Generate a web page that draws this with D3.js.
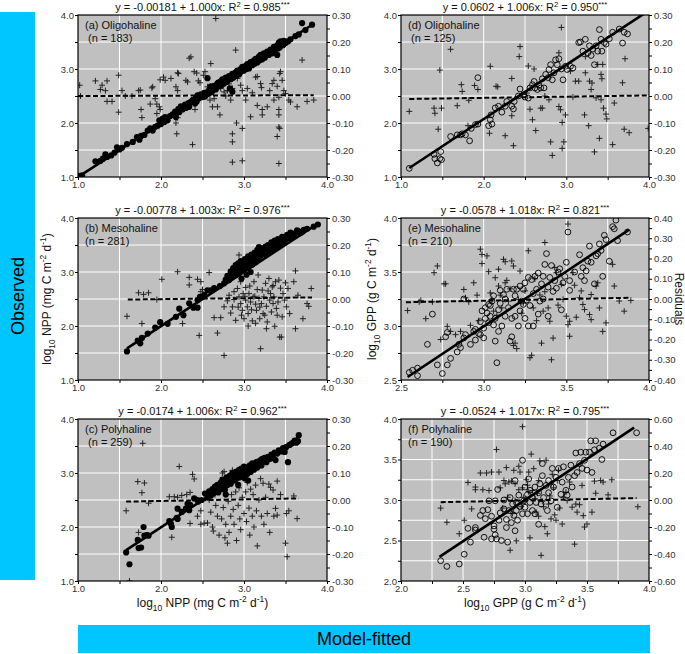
<!DOCTYPE html>
<html>
<head>
<meta charset="utf-8">
<script src="https://cdn.jsdelivr.net/npm/d3@7"></script>
<style>
body { margin: 0; background: #fff; }
svg text { font-family: "Liberation Sans", Arial, sans-serif; }
.tick text { font-size: 9.5px; fill: #333; }
.tick line { stroke: #000; }
</style>
</head>
<body>
<div id="chart"></div>
<script>
// ---- panel text ----
var panelNames = ["(a) Oligohaline", "(b) Mesohaline", "(c) Polyhaline", "(d) Oligohaline", "(e) Mesohaline", "(f) Polyhaline"];
var panelN = [" (n = 183)", "(n = 281)", " (n = 259)", " (n = 125)", "(n = 210)", "(n = 190)"];
var eqText = ["y = -0.00181 + 1.000x: R", "y = -0.00778 + 1.003x: R", "y = -0.0174 + 1.006x: R",
              "y = 0.0602 + 1.006x: R", "y = -0.0578 + 1.018x: R", "y = -0.0524 + 1.017x: R"];
var r2Text = [" = 0.985", " = 0.976", " = 0.962", " = 0.950", " = 0.821", " = 0.795"];

// ---- regression lines ----
var intercepts = [-0.00181, -0.00778, -0.0174, 0.0602, -0.0578, -0.0524];
var slopes = [1.000, 1.003, 1.006, 1.006, 1.018, 1.017];
var fitRange = [[1.0, 3.83], [1.59, 3.88], [1.58, 3.66], [1.1, 3.97], [2.54, 3.88], [2.31, 3.88]];
// residual trend: x0, x1, r0, r1
var residTrend = [[1.0, 3.84, 0.0, 0.003], [1.6, 3.82, -0.002, 0.006], [1.58, 3.66, -0.006, 0.006],
                  [1.1, 3.98, -0.011, 0.002], [2.53, 3.88, -0.016, 0.006], [2.32, 3.9, -0.016, 0.014]];

// ---- axes ----
var xDomains = [[1, 4], [1, 4], [1, 4], [1, 4], [2.5, 4], [2, 4]];
var rDomains = [[-0.3, 0.3], [-0.3, 0.3], [-0.3, 0.3], [-0.3, 0.3], [-0.4, 0.4], [-0.6, 0.6]];
var majorTicks = [[1, 2, 3, 4], [1, 2, 3, 4], [1, 2, 3, 4], [1, 2, 3, 4], [2.5, 3, 3.5, 4], [2, 2.5, 3, 3.5, 4]];
var minorTicks = [[1.5, 2.5, 3.5], [1.5, 2.5, 3.5], [1.5, 2.5, 3.5], [1.5, 2.5, 3.5], [2.75, 3.25, 3.75], [2.25, 2.75, 3.25, 3.75]];
var rMajor = [[-0.3, -0.2, -0.1, 0, 0.1, 0.2, 0.3], [-0.3, -0.2, -0.1, 0, 0.1, 0.2, 0.3], [-0.3, -0.2, -0.1, 0, 0.1, 0.2, 0.3],
              [-0.3, -0.2, -0.1, 0, 0.1, 0.2, 0.3], [-0.4, -0.3, -0.2, -0.1, 0, 0.1, 0.2, 0.3, 0.4], [-0.6, -0.4, -0.2, 0, 0.2, 0.4, 0.6]];
var rMinor = [[-0.25, -0.15, -0.05, 0.05, 0.15, 0.25], [-0.25, -0.15, -0.05, 0.05, 0.15, 0.25], [-0.25, -0.15, -0.05, 0.05, 0.15, 0.25],
              [-0.25, -0.15, -0.05, 0.05, 0.15, 0.25], [-0.35, -0.25, -0.15, -0.05, 0.05, 0.15, 0.25, 0.35], [-0.5, -0.3, -0.1, 0.1, 0.3, 0.5]];

// ---- observed vs model-fitted (log10) ----
var obsA = [[1.01,1.02],[1.03,1.01],[1.05,1.03],[1.21,1.29],[1.27,1.30],[1.30,1.34],[1.33,1.42],[1.35,1.37],[1.40,1.40],[1.44,1.45],[1.47,1.55],[1.50,1.51],[1.53,1.54],[1.59,1.61],[1.66,1.65],[1.71,1.74],[1.74,1.69],[1.76,1.76],[1.80,1.78],[1.84,1.86],[1.87,1.90],[1.90,1.86],[1.93,1.93],[1.96,1.95],[1.98,2.05],[2.00,1.98],[2.02,2.08],[2.04,2.02],[2.05,2.11],[2.08,2.05],[2.11,2.13],[2.14,2.16],[2.17,2.21],[2.18,2.11],[2.21,2.26],[2.22,2.20],[2.24,2.31],[2.26,2.25],[2.29,2.34],[2.30,2.28],[2.33,2.37],[2.34,2.30],[2.36,2.39],[2.38,2.42],[2.41,2.36],[2.42,2.46],[2.44,2.51],[2.46,2.46],[2.48,2.53],[2.50,2.48],[2.52,2.56],[2.55,2.53],[2.56,2.83],[2.57,2.59],[2.59,2.63],[2.61,2.57],[2.62,2.66],[2.64,2.69],[2.66,2.62],[2.68,2.73],[2.70,2.68],[2.72,2.77],[2.74,2.81],[2.76,2.73],[2.78,2.84],[2.80,2.78],[2.83,2.64],[2.82,2.87],[2.84,2.81],[2.86,2.58],[2.86,2.91],[2.88,2.86],[2.90,2.94],[2.92,2.97],[2.94,2.90],[2.96,3.00],[2.98,3.04],[3.00,2.97],[3.02,3.06],[3.04,3.09],[3.06,3.01],[3.08,3.13],[3.10,3.07],[3.12,3.16],[3.14,3.19],[3.16,3.12],[3.18,3.23],[3.20,3.26],[3.22,3.18],[3.24,3.29],[3.26,3.24],[3.28,3.32],[3.30,3.26],[3.32,3.36],[3.34,3.29],[3.36,3.41],[3.38,3.36],[3.40,3.26],[3.40,3.44],[3.42,3.49],[3.43,3.40],[3.44,3.51],[3.46,3.46],[3.48,3.52],[3.50,3.48],[3.53,3.51],[3.56,3.55],[3.62,3.61],[3.66,3.64],[3.70,3.85],[3.74,3.72],[3.82,3.82],
  [2.39,2.43],[2.43,2.40],[2.47,2.50],[2.51,2.52],[2.53,2.49],[2.58,2.55],[2.60,2.68],[2.63,2.61],[2.65,2.66],[2.67,2.70],[2.69,2.75],[2.71,2.72],[2.73,2.70],[2.75,2.78],[2.77,2.80],[2.79,2.76],[2.81,2.83],[2.85,2.86],[2.87,2.84],[2.89,2.90],[2.91,2.88],[2.93,2.95],[2.95,2.93],[2.97,2.96],[2.99,3.00],[3.01,3.02],[3.03,3.00],[3.05,3.05],[3.07,3.07],[3.09,3.10],[3.11,3.12],[3.13,3.10],[3.15,3.16],[3.17,3.18],[3.19,3.16],[3.21,3.22],[3.23,3.25],[3.25,3.21],[3.27,3.28],[3.29,3.30],[3.31,3.33],[3.33,3.31],[3.35,3.36],[3.37,3.34],[3.39,3.40],[3.41,3.38],[3.45,3.48],[3.47,3.44],[3.49,3.50]];
var obsB = [[1.59,1.53],[1.72,1.73],[1.75,1.68],[1.77,1.78],[1.84,1.86],[1.93,1.97],[1.99,2.07],[2.08,2.04],[2.18,2.17],[2.22,2.32],[2.27,2.20],[2.34,2.42],[2.39,2.34],[2.44,2.48],[2.44,2.34],[2.47,2.54],[2.52,2.57],[2.56,2.66],[2.60,2.66],[2.64,2.70],[2.71,2.74],[2.76,2.79],[2.78,2.86],[2.80,2.93],[2.82,2.85],[2.84,3.01],[2.86,2.93],[2.87,3.07],[2.89,2.96],[2.90,3.13],[2.91,3.04],[2.93,3.16],[2.94,2.98],[2.95,3.10],[2.96,3.20],[2.98,3.04],[2.99,3.13],[3.01,3.24],[3.02,3.10],[3.03,3.20],[3.05,3.29],[3.06,3.13],[3.07,3.22],[3.09,3.32],[3.10,3.20],[3.11,3.29],[3.13,3.36],[3.14,3.24],[3.16,3.41],[3.17,3.32],[3.18,3.46],[3.20,3.35],[3.22,3.44],[3.24,3.34],[3.26,3.47],[3.27,3.40],[3.29,3.50],[3.31,3.42],[3.33,3.55],[3.35,3.46],[3.37,3.58],[3.39,3.50],[3.41,3.61],[3.43,3.53],[3.46,3.65],[3.48,3.57],[3.52,3.69],[3.56,3.73],[3.60,3.67],[3.64,3.77],[3.68,3.72],[3.76,3.80],[3.84,3.84],[3.89,3.88],
  [2.82,2.90],[2.85,2.96],[2.88,2.99],[2.90,2.95],[2.92,3.05],[2.94,3.08],[2.96,3.02],[2.97,3.12],[2.99,3.06],[3.00,3.17],[3.02,3.14],[3.04,3.12],[3.05,3.22],[3.07,3.16],[3.08,3.25],[3.10,3.14],[3.11,3.24],[3.12,3.30],[3.14,3.18],[3.15,3.33],[3.17,3.26],[3.18,3.37],[3.20,3.30],[3.21,3.40],[3.23,3.36],[3.25,3.42],[3.26,3.32],[3.28,3.45],[3.30,3.38],[3.32,3.48],[3.34,3.42],[3.36,3.52],[3.38,3.46],[3.40,3.55],[3.42,3.50],[3.44,3.58],[3.45,3.52],[3.47,3.61],[3.50,3.60],[3.53,3.64],[3.55,3.62],[3.58,3.70],[3.62,3.72],[3.66,3.75],[3.70,3.74],[3.72,3.78],[2.97,2.88],[3.03,2.95],[3.08,3.00]];
var obsC = [[1.58,1.53],[1.62,1.31],[1.72,1.76],[1.73,1.61],[1.76,1.62],[1.79,2.00],[1.80,1.84],[1.83,1.85],[1.85,1.84],[2.10,2.11],[2.12,2.06],[2.13,2.00],[2.19,2.17],[2.20,2.15],[2.20,2.34],[2.25,2.28],[2.30,2.34],[2.32,2.43],[2.34,2.31],[2.35,2.41],[2.40,2.53],[2.44,2.50],[2.45,2.47],[2.49,2.50],[2.53,2.62],
  [2.56,2.55],[2.58,2.66],[2.60,2.58],[2.62,2.70],[2.63,2.62],[2.65,2.75],[2.66,2.66],[2.68,2.78],[2.69,2.64],[2.70,2.72],[2.72,2.82],[2.73,2.70],[2.74,2.88],[2.75,2.76],[2.77,2.69],[2.78,2.85],[2.79,2.92],[2.80,2.78],[2.82,2.88],[2.83,2.95],[2.84,2.80],[2.85,2.90],[2.86,3.00],[2.88,2.86],[2.89,2.95],[2.90,3.02],[2.91,2.90],[2.92,2.98],[2.94,3.06],[2.95,2.92],[2.96,3.00],[2.97,3.08],[2.98,2.96],[2.99,3.04],[3.00,3.12],[3.01,2.90],[3.02,3.02],[3.03,3.10],[3.04,2.98],[3.05,3.06],[3.07,3.14],[3.08,3.02],[3.09,3.10],[3.10,3.18],[3.12,3.06],[3.13,3.14],[3.15,3.20],[3.16,3.10],[3.18,3.17],[3.20,3.24],[3.21,3.14],[3.23,3.22],[3.25,3.28],[3.27,3.20],[3.29,3.30],[3.31,3.26],[3.33,3.34],[3.35,3.28],[3.37,3.38],[3.38,3.24],[3.40,3.36],[3.42,3.42],[3.45,3.40],[3.47,3.46],[3.49,3.39],[3.51,3.48],[3.53,3.20],[3.55,3.52],[3.58,3.55],[3.61,3.60],[3.63,3.56],[3.65,3.59],[3.66,3.70],
  [2.93,2.78],[3.05,2.86],[2.78,2.60],[2.87,2.93],[2.93,3.01],[3.00,3.05],[3.06,3.09],[3.11,3.13],[3.17,3.21],[3.22,3.26],[2.81,2.84],[2.76,2.80],[2.71,2.76]];
var obsD = [[1.10,1.16],[1.40,1.42],[1.41,1.34],[1.44,1.26],[1.47,1.34],[1.49,1.32],[1.48,1.47],[1.60,1.75],[1.68,1.78],[1.72,1.78],[1.74,1.80],[1.78,1.78],[1.83,1.67],[1.85,1.90],[1.90,1.97],[1.93,1.98],[1.93,2.84],[2.06,1.95],[2.08,2.06],[2.10,1.98],[2.09,2.15],[2.14,2.28],[2.18,2.31],[2.22,2.20],[2.26,2.31],[2.28,2.40],[2.34,2.31],[2.36,2.26],[2.37,2.40],[2.42,2.50],[2.44,2.63],[2.48,2.52],[2.50,2.48],[2.54,2.46],[2.56,2.65],[2.59,2.71],[2.61,2.77],[2.62,2.65],[2.65,2.62],[2.67,2.70],[2.69,2.65],[2.71,2.82],[2.73,2.65],[2.75,2.90],[2.78,2.84],[2.79,2.99],[2.81,3.08],[2.83,2.80],[2.85,2.93],[2.87,3.17],[2.89,3.08],[2.91,3.19],[2.94,3.00],[2.96,2.80],[2.99,3.05],[3.01,2.99],[3.05,3.05],[3.08,3.02],[3.15,3.49],[3.17,3.50],[3.20,3.33],[3.23,3.55],[3.26,3.30],[3.28,3.43],[3.30,3.25],[3.32,3.37],[3.34,3.08],[3.36,3.43],[3.38,3.33],[3.40,3.73],[3.42,3.55],[3.43,3.33],[3.46,3.49],[3.48,3.46],[3.52,3.56],[3.56,3.68],[3.64,3.74],[3.68,3.48],[3.70,3.68],[3.74,3.65]];
var obsE = [[2.55,2.57],[2.57,2.59],[2.60,2.61],[2.60,2.54],[2.66,2.83],[2.69,3.11],[2.72,2.64],[2.75,2.56],[2.78,2.64],[2.77,2.90],[2.78,2.94],[2.80,2.70],[2.84,2.76],[2.85,2.83],[2.86,2.80],[2.88,2.89],[2.89,2.92],[2.88,3.25],[2.92,2.83],[2.94,2.95],[2.95,2.97],[2.95,2.87],[2.97,2.93],[2.98,2.92],[2.98,3.04],[2.99,3.14],[3.00,2.89],[3.00,2.98],[3.01,3.07],[3.01,3.17],[3.02,3.12],[3.03,3.03],[3.04,3.09],[3.04,3.19],[3.05,3.23],[3.06,3.01],[3.07,3.07],[3.07,2.86],[3.08,2.66],[3.09,2.95],[3.09,3.15],[3.10,3.21],[3.11,3.00],[3.12,3.29],[3.13,3.09],[3.14,3.34],[3.15,3.17],[3.16,2.86],[3.17,2.90],[3.17,3.07],[3.18,3.34],[3.19,3.09],[3.20,3.34],[3.21,3.00],[3.22,3.14],[3.22,3.37],[3.23,3.23],[3.24,3.34],[3.25,3.07],[3.25,3.40],[3.26,3.24],[3.27,3.45],[3.27,3.00],[3.28,3.19],[3.29,3.43],[3.30,3.00],[3.31,3.46],[3.32,3.34],[3.33,3.49],[3.33,3.11],[3.34,3.23],[3.35,3.39],[3.36,3.46],[3.37,3.57],[3.38,3.67],[3.39,3.09],[3.39,3.36],[3.40,3.45],[3.41,3.56],[3.42,3.32],[3.43,3.42],[3.45,3.50],[3.46,3.53],[3.47,3.15],[3.48,3.40],[3.49,3.46],[3.50,3.59],[3.51,3.87],[3.52,3.42],[3.52,3.33],[3.58,3.66],[3.59,3.46],[3.60,3.54],[3.61,3.42],[3.62,3.51],[3.63,3.60],[3.64,3.74],[3.65,3.59],[3.67,3.39],[3.68,3.65],[3.69,3.67],[3.70,3.76],[3.71,3.70],[3.72,3.46],[3.73,3.84],[3.74,3.80],[3.76,3.60],[3.78,3.92],[3.79,3.90],[3.80,3.98],[3.81,3.79],[3.87,3.87],
  [3.03,3.20],[3.06,3.28],[3.10,3.33],[3.13,3.25],[3.19,3.28],[3.24,3.20],[3.30,3.30],[3.36,3.25],[3.44,3.35],[3.55,3.50]];
var obsF = [[2.32,2.25],[2.37,2.18],[2.47,2.21],[2.51,2.33],[2.54,2.65],[2.56,2.48],[2.60,2.66],[2.60,2.63],[2.64,2.81],[2.66,2.87],[2.67,2.54],[2.68,2.77],[2.70,2.88],[2.71,2.99],[2.73,2.52],[2.73,2.80],[2.75,2.68],[2.75,2.64],[2.76,2.57],[2.76,2.99],[2.77,2.52],[2.78,3.13],[2.79,2.75],[2.80,2.84],[2.81,2.50],[2.83,2.89],[2.83,3.00],[2.85,2.66],[2.85,2.76],[2.86,2.48],[2.87,2.87],[2.88,3.03],[2.89,2.72],[2.90,2.95],[2.91,2.81],[2.92,3.24],[2.92,2.62],[2.93,2.87],[2.93,2.97],[2.94,2.75],[2.95,3.06],[2.96,2.92],[2.98,3.49],[2.98,2.83],[2.99,2.99],[3.00,3.16],[3.00,2.91],[3.02,3.07],[3.02,2.83],[3.03,3.26],[3.04,2.97],[3.04,3.12],[3.06,2.87],[3.06,3.03],[3.08,3.16],[3.08,2.83],[3.09,2.97],[3.11,2.70],[3.11,3.09],[3.12,3.20],[3.13,2.95],[3.14,3.45],[3.14,3.30],[3.15,3.03],[3.17,3.18],[3.18,2.87],[3.19,3.24],[3.19,3.09],[3.21,2.99],[3.22,3.39],[3.23,3.16],[3.25,3.28],[3.26,2.91],[3.27,3.39],[3.29,3.07],[3.30,3.22],[3.31,3.41],[3.33,3.12],[3.34,3.06],[3.35,3.28],[3.37,3.43],[3.38,3.16],[3.40,3.30],[3.41,3.58],[3.42,3.34],[3.44,3.45],[3.45,3.59],[3.46,3.39],[3.48,3.49],[3.49,3.59],[3.50,3.37],[3.52,3.59],[3.53,3.73],[3.54,3.34],[3.56,3.62],[3.57,3.73],[3.60,3.64],[3.62,3.50],[3.63,3.69],[3.71,3.83],[3.90,3.83]];

// ---- residuals ----
var resA = [[1.02,0.04],[1.03,0.0],[1.21,0.056],[1.27,0.024],[1.29,0.04],[1.33,0.02],[1.35,0.056],[1.35,-0.02],[1.41,-0.02],[1.49,0.077],[1.49,-0.06],[1.53,0.02],[1.57,0.0],[1.65,0.0],[1.73,0.02],[1.75,0.022],[1.76,-0.05],[1.77,-0.08],[1.87,-0.03],[1.89,0.03],[1.90,0.034],[1.93,-0.01],[1.95,-0.03],[1.95,-0.065],[1.98,-0.04],[1.99,-0.05],[1.99,0.06],[2.03,0.07],[2.05,0.058],[2.12,0.065],[2.18,-0.10],[2.19,-0.14],[2.20,-0.08],[2.20,0.086],[2.21,0.083],[2.18,0.034],[2.20,0.02],[2.30,0.058],[2.32,0.052],[2.34,0.14],[2.36,0.145],[2.38,-0.18],[2.40,0.09],[2.43,0.085],[2.41,-0.05],[2.45,0.056],[2.47,0.049],[2.51,0.077],[2.53,0.09],[2.56,0.034],[2.58,0.024],[2.60,0.12],[2.59,-0.015],[2.62,-0.04],[2.64,-0.01],[2.66,0.287],[2.68,-0.04],[2.71,-0.07],[2.72,0.028],[2.76,0.015],[2.78,0.0],[2.80,0.02],[2.82,0.045],[2.84,-0.015],[2.86,0.028],[2.86,-0.14],[2.86,-0.17],[2.86,-0.245],[2.91,-0.10],[2.90,0.17],[2.92,0.065],[2.96,0.04],[2.98,0.02],[2.98,-0.24],[2.98,-0.12],[3.02,-0.015],[3.04,0.028],[3.08,-0.077],[3.10,0.012],[3.14,0.07],[3.16,0.072],[3.16,-0.035],[3.20,0.046],[3.22,-0.05],[3.21,0.031],[3.22,-0.07],[3.28,-0.04],[3.31,0.02],[3.34,0.046],[3.36,0.058],[3.36,-0.015],[3.40,0.036],[3.42,-0.005],[3.42,-0.05],[3.42,-0.07],[3.40,-0.15],[3.42,-0.115],[3.43,-0.12],[3.42,-0.25],[3.43,0.083],[3.44,0.09],[3.46,0.058],[3.48,0.02],[3.50,0.009],[3.54,-0.015],[3.56,-0.022],[3.70,0.133],[3.64,-0.04],[3.76,-0.02],[3.84,-0.015]];
var resB = [[1.59,-0.064],[1.73,0.023],[1.79,0.017],[1.85,0.023],[1.77,-0.091],[1.95,-0.002],[2.01,0.073],[2.20,0.101],[2.26,-0.091],[2.34,0.08],[2.34,0.052],[2.44,0.073],[2.48,0.064],[2.46,-0.135],[2.58,0.098],[2.50,0.035],[2.48,0.027],[2.64,-0.069],[2.68,-0.126],[2.76,-0.209],[2.72,-0.069],[2.76,-0.029],[2.80,-0.007],[2.82,0.014],[2.84,-0.052],[2.86,-0.029],[2.88,-0.002],[2.90,-0.079],[2.88,0.027],[2.92,0.039],[2.94,0.163],[2.94,0.008],[2.96,-0.017],[2.96,0.064],[2.98,-0.042],[2.99,0.02],[3.00,-0.073],[3.02,-0.004],[3.02,0.043],[3.04,-0.029],[3.05,-0.054],[3.06,0.02],[3.07,0.048],[3.08,-0.011],[3.10,-0.081],[3.11,0.008],[3.12,0.064],[3.14,-0.019],[3.15,-0.042],[3.16,0.035],[3.17,0.089],[3.18,0.002],[3.19,-0.073],[3.20,-0.184],[3.21,-0.017],[3.22,0.033],[3.23,-0.054],[3.24,0.008],[3.26,0.058],[3.27,-0.027],[3.28,-0.085],[3.29,0.03],[3.30,0.076],[3.31,-0.004],[3.33,-0.048],[3.34,0.045],[3.35,-0.017],[3.36,0.008],[3.37,-0.101],[3.38,0.064],[3.39,-0.035],[3.41,-0.011],[3.42,0.07],[3.43,-0.141],[3.45,-0.141],[3.46,-0.066],[3.47,0.02],[3.49,-0.004],[3.51,-0.029],[3.53,0.039],[3.55,-0.054],[3.60,0.064],[3.62,-0.11],[3.62,0.104],[3.65,0.014],[3.71,-0.073],[3.76,-0.017],[3.78,-0.027],[3.81,0.039],
  [2.93,-0.03],[2.97,-0.06],[3.01,0.01],[3.09,-0.04],[3.13,0.01],[3.19,-0.03],[3.25,-0.06],[3.32,0.02],[3.40,-0.06],[3.44,0.04],[3.05,-0.10],[3.14,-0.09],[3.27,-0.11],[3.35,0.05],[3.50,0.06]];
var resC = [[1.58,-0.04],[1.62,-0.30],[1.72,0.068],[1.80,0.063],[1.77,0.027],[1.73,-0.12],[1.78,0.21],[1.85,-0.012],[2.10,0.012],[2.13,-0.138],[2.16,0.012],[2.20,0.010],[2.22,0.124],[2.25,0.017],[2.31,0.02],[2.35,0.028],[2.35,-0.087],[2.38,0.095],[2.40,0.078],[2.44,-0.06],[2.48,-0.04],[2.48,-0.09],[2.52,-0.086],[2.56,-0.085],[2.58,0.0],[2.60,-0.045],[2.62,-0.10],[2.63,-0.115],[2.65,0.02],[2.66,-0.02],[2.68,-0.06],[2.70,0.035],[2.70,-0.13],[2.72,0.05],[2.73,-0.07],[2.74,0.10],[2.75,-0.028],[2.76,0.105],[2.77,-0.14],[2.78,-0.09],[2.79,0.06],[2.80,-0.16],[2.81,-0.005],[2.82,-0.12],[2.83,0.08],[2.84,-0.06],[2.85,0.02],[2.86,0.11],[2.87,-0.035],[2.88,-0.09],[2.90,0.03],[2.91,-0.15],[2.92,0.075],[2.93,-0.02],[2.94,0.045],[2.95,-0.07],[2.96,-0.11],[2.98,0.01],[2.99,0.09],[3.00,-0.05],[3.02,0.03],[3.03,-0.08],[3.04,0.065],[3.06,-0.03],[3.07,-0.13],[3.08,0.04],[3.10,-0.06],[3.11,0.02],[3.12,-0.10],[3.14,0.055],[3.15,-0.04],[3.16,-0.17],[3.18,0.0],[3.20,0.079],[3.21,-0.06],[3.23,0.062],[3.24,-0.09],[3.26,0.01],[3.28,-0.05],[3.30,0.059],[3.31,-0.12],[3.32,0.047],[3.35,0.037],[3.36,-0.06],[3.38,-0.031],[3.40,0.07],[3.40,-0.056],[3.44,0.02],[3.51,-0.05],[3.54,-0.04],[3.50,-0.16],[3.52,-0.21],[3.64,-0.069],[3.60,0.015]];
var resD = [[1.10,-0.057],[1.40,-0.045],[1.41,-0.064],[1.49,-0.045],[1.45,-0.123],[1.47,0.096],[1.60,0.173],[1.68,-0.036],[1.73,0.042],[1.74,0.017],[1.82,-0.016],[1.89,0.039],[1.93,0.024],[1.81,-0.11],[2.08,0.11],[2.07,-0.138],[2.15,0.036],[2.17,0.034],[2.26,-0.147],[2.34,0.065],[2.34,-0.073],[2.36,-0.184],[2.44,0.183],[2.43,0.146],[2.52,0.011],[2.54,0.111],[2.56,-0.049],[2.59,-0.088],[2.61,0.10],[2.63,-0.128],[2.69,-0.045],[2.71,-0.045],[2.74,0.0],[2.79,-0.014],[2.81,-0.17],[2.83,-0.22],[2.91,-0.039],[2.93,-0.051],[2.94,0.254],[2.95,-0.098],[2.95,-0.194],[2.97,-0.17],[2.99,-0.07],[2.91,0.16],[3.05,0.092],[3.11,0.055],[3.15,0.055],[3.08,-0.004],[3.22,-0.07],[3.23,0.146],[3.23,0.086],[3.27,-0.11],[3.28,0.055],[3.30,0.024],[3.31,0.048],[3.34,-0.207],[3.36,-0.007],[3.40,-0.157],[3.38,0.117],[3.44,0.117],[3.42,0.08],[3.43,0.064],[3.42,-0.014],[3.45,-0.045],[3.48,-0.067],[3.49,-0.085],[3.56,-0.18],[3.58,-0.026],[3.68,0.049],[3.70,-0.123],[3.71,0.138],[3.76,-0.136],[3.99,-0.12]];
var resE = [[2.54,-0.057],[2.61,-0.014],[2.62,-0.007],[2.65,-0.097],[2.69,-0.014],[2.70,0.13],[2.72,0.163],[2.76,0.075],[2.77,0.075],[2.74,-0.20],[2.78,-0.135],[2.80,-0.16],[2.83,-0.176],[2.86,-0.16],[2.88,0.047],[2.89,0.006],[2.91,-0.014],[2.92,-0.13],[2.94,0.08],[2.96,0.019],[2.97,-0.107],[2.98,0.246],[2.99,0.22],[2.99,0.175],[3.02,0.213],[3.03,0.135],[3.05,-0.002],[3.06,-0.06],[3.07,0.105],[3.09,0.147],[3.09,0.064],[3.10,0.019],[3.11,-0.044],[3.12,0.196],[3.13,0.184],[3.13,0.08],[3.14,0.092],[3.15,-0.011],[3.17,0.188],[3.18,0.163],[3.18,-0.23],[3.19,-0.218],[3.20,-0.245],[3.21,-0.002],[3.22,0.138],[3.24,-0.02],[3.25,0.04],[3.27,0.238],[3.28,-0.29],[3.29,-0.278],[3.30,-0.044],[3.32,-0.107],[3.35,-0.218],[3.36,-0.06],[3.37,0.036],[3.37,0.279],[3.39,-0.044],[3.40,-0.11],[3.41,-0.30],[3.42,-0.193],[3.43,0.155],[3.44,0.13],[3.47,0.072],[3.48,-0.002],[3.50,-0.085],[3.51,-0.127],[3.52,-0.11],[3.52,-0.184],[3.51,0.37],[3.54,0.13],[3.55,0.068],[3.58,0.006],[3.59,0.04],[3.60,-0.027],[3.61,-0.052],[3.64,-0.077],[3.65,-0.102],[3.65,0.022],[3.68,0.064],[3.69,0.08],[3.70,-0.044],[3.72,-0.16],[3.74,-0.118],[3.78,0.171],[3.79,0.064],[3.82,-0.01],[3.85,-0.06],[3.89,-0.007],
  [3.04,0.03],[3.08,-0.08],[3.16,0.05],[3.23,-0.07],[3.31,0.10],[3.34,0.02],[3.45,-0.03],[3.56,-0.09]];
var resF = [[2.32,-0.06],[2.37,-0.165],[2.47,-0.25],[2.51,-0.15],[2.54,0.13],[2.60,0.076],[2.60,0.096],[2.57,-0.066],[2.64,0.20],[2.66,0.076],[2.69,0.20],[2.71,0.07],[2.73,0.207],[2.77,0.374],[2.79,0.207],[2.80,0.09],[2.83,0.145],[2.84,0.12],[2.85,0.24],[2.87,0.133],[2.88,-0.372],[2.89,0.14],[2.91,0.22],[2.92,-0.004],[2.92,0.12],[2.93,-0.302],[2.95,0.25],[2.95,0.076],[2.96,0.207],[2.98,0.543],[2.98,0.09],[2.99,0.02],[3.00,-0.004],[3.02,0.11],[3.03,0.207],[3.03,0.06],[3.04,-0.28],[3.05,0.34],[3.06,0.07],[3.07,0.232],[3.08,0.01],[3.09,-0.09],[3.11,-0.12],[3.11,0.145],[3.12,0.29],[3.13,-0.41],[3.14,-0.01],[3.15,-0.05],[3.16,-0.197],[3.17,0.295],[3.18,-0.25],[3.19,-0.03],[3.21,-0.14],[3.21,0.12],[3.22,0.19],[3.23,0.09],[3.24,-0.11],[3.25,-0.15],[3.26,0.145],[3.27,0.22],[3.30,-0.178],[3.31,0.02],[3.33,0.058],[3.34,-0.004],[3.36,0.133],[3.38,-0.053],[3.40,-0.327],[3.41,-0.03],[3.42,-0.09],[3.44,-0.035],[3.46,0.108],[3.47,-0.116],[3.48,-0.20],[3.50,-0.178],[3.54,-0.09],[3.56,0.14],[3.57,0.05],[3.61,0.145],[3.63,0.133],[3.67,0.038],[3.70,0.15],[3.91,-0.05],
  [2.82,-0.06],[2.86,0.02],[2.90,-0.10],[2.97,-0.05],[3.01,0.15],[3.10,0.05],[3.20,0.03],[3.28,-0.06]];

var observed = [obsA, obsB, obsC, obsD, obsE, obsF];
var residuals = [resA, resB, resC, resD, resE, resF];

// ---- layout ----
var W = 685, H = 654;
var colX = [78, 401], colW = [249, 248];
var rowY = [15, 218, 419], rowH = 162;
var cyan = "#00c6ff";

var svg = d3.select("#chart").append("svg").attr("width", W).attr("height", H);

// rich text helper: parts = [[text, ""|"sub"|"sup"], ...]
function rich(t, parts, fs) {
  var shift = 0;
  parts.forEach(function(p) {
    var s = p[1] === "sup" ? -0.4 * fs : p[1] === "sub" ? 0.3 * fs : 0;
    t.append("tspan").attr("dy", s - shift)
      .style("font-size", (p[1] ? fs * 0.7 : fs) + "px").text(p[0]);
    shift = s;
  });
}

var fmt1 = function(d) { return d.toFixed(1); };
var fmt2 = function(d) { return (Math.abs(d) < 1e-9 ? 0 : d).toFixed(2); };

observed.forEach(function(obs, i) {
  var col = i < 3 ? 0 : 1, row = i % 3;
  var w = colW[col], h = rowH;
  var x = d3.scaleLinear().domain(xDomains[i]).range([0, w]);
  var y = d3.scaleLinear().domain(xDomains[i]).range([h, 0]);
  var r = d3.scaleLinear().domain(rDomains[i]).range([h, 0]);
  var g = svg.append("g").attr("transform", "translate(" + colX[col] + "," + rowY[row] + ")");

  g.append("rect").attr("width", w).attr("height", h).attr("fill", "#c0c0c0");

  var grid = majorTicks[i].concat(minorTicks[i]).filter(function(v) {
    return v > xDomains[i][0] && v < xDomains[i][1];
  });
  g.selectAll(".gx").data(grid).enter().append("line")
    .attr("x1", d => x(d)).attr("x2", d => x(d)).attr("y1", 0).attr("y2", h)
    .attr("stroke", "#fff").attr("stroke-width", 1);
  g.selectAll(".gy").data(grid).enter().append("line")
    .attr("y1", d => y(d)).attr("y2", d => y(d)).attr("x1", 0).attr("x2", w)
    .attr("stroke", "#fff").attr("stroke-width", 1);

  var clipId = "clip" + i;
  g.append("clipPath").attr("id", clipId).append("rect").attr("width", w).attr("height", h);
  var plot = g.append("g").attr("clip-path", "url(#" + clipId + ")");

  // residual crosses
  plot.selectAll(".cross").data(residuals[i]).enter().append("path")
    .attr("d", d => "M" + (x(d[0]) - 3) + "," + r(d[1]) + "h6M" + x(d[0]) + "," + (r(d[1]) - 3) + "v6")
    .attr("stroke", "#222").attr("stroke-width", 1).attr("fill", "none");

  // observed points
  plot.selectAll(".pt").data(obs).enter().append("circle")
    .attr("cx", d => x(d[0])).attr("cy", d => y(d[1]))
    .attr("r", i < 3 ? 3.1 : 2.9)
    .attr("fill", i < 3 ? "#000" : "none")
    .attr("stroke", "#000").attr("stroke-width", i < 3 ? 0 : 0.9);

  // residual trend (dashed)
  var rt = residTrend[i];
  plot.append("line")
    .attr("x1", x(rt[0])).attr("x2", x(rt[1])).attr("y1", r(rt[2])).attr("y2", r(rt[3]))
    .attr("stroke", "#000").attr("stroke-width", 2).attr("stroke-dasharray", "5,2.5");

  // regression line
  var fr = fitRange[i];
  plot.append("line")
    .attr("x1", x(fr[0])).attr("x2", x(fr[1]))
    .attr("y1", y(intercepts[i] + slopes[i] * fr[0])).attr("y2", y(intercepts[i] + slopes[i] * fr[1]))
    .attr("stroke", "#000").attr("stroke-width", 2.6);

  // axes
  var ax = [
    g.append("g").attr("transform", "translate(0," + h + ")")
      .call(d3.axisBottom(x).tickValues(majorTicks[i]).tickFormat(fmt1).tickSize(3).tickPadding(1)),
    g.append("g").attr("transform", "translate(0," + h + ")")
      .call(d3.axisBottom(x).tickValues(minorTicks[i]).tickFormat("").tickSize(3)),
    g.append("g").call(d3.axisLeft(y).tickValues(majorTicks[i]).tickFormat(fmt1).tickSize(3).tickPadding(1)),
    g.append("g").call(d3.axisLeft(y).tickValues(minorTicks[i]).tickFormat("").tickSize(3)),
    g.append("g").attr("transform", "translate(" + w + ",0)")
      .call(d3.axisRight(r).tickValues(rMajor[i]).tickFormat(fmt2).tickSize(3).tickPadding(2)),
    g.append("g").attr("transform", "translate(" + w + ",0)")
      .call(d3.axisRight(r).tickValues(rMinor[i]).tickFormat("").tickSize(3))
  ];
  ax.forEach(function(a) { a.select(".domain").remove(); });

  g.append("rect").attr("width", w).attr("height", h)
    .attr("fill", "none").attr("stroke", "#000").attr("stroke-width", 1.2);

  // equation title
  var eq = g.append("text").attr("x", w / 2).attr("y", -4).attr("text-anchor", "middle").attr("fill", "#111");
  rich(eq, [[eqText[i], ""], ["2", "sup"], [r2Text[i], ""], ["***", "sup"]], 11);

  // panel label
  g.append("text").attr("x", 7).attr("y", 14).style("font-size", "11px").attr("fill", "#111").text(panelNames[i]);
  g.append("text").attr("x", 7).attr("y", 27).style("font-size", "11px").style("white-space", "pre")
    .attr("fill", "#111").text(panelN[i]);
});

// ---- axis titles ----
var nppParts = [["log", ""], ["10", "sub"], [" NPP (mg C m", ""], ["-2", "sup"], [" d", ""], ["-1", "sup"], [")", ""]];
var gppParts = [["log", ""], ["10", "sub"], [" GPP (g C m", ""], ["-2", "sup"], [" d", ""], ["-1", "sup"], [")", ""]];
var midY = rowY[1] + rowH / 2;

rich(svg.append("text").attr("text-anchor", "middle").attr("fill", "#111")
  .attr("transform", "translate(51," + midY + ") rotate(-90)"), nppParts, 12);
rich(svg.append("text").attr("text-anchor", "middle").attr("fill", "#111")
  .attr("transform", "translate(376," + midY + ") rotate(-90)"), gppParts, 12);
svg.append("text").attr("text-anchor", "middle").attr("fill", "#111").style("font-size", "12px")
  .attr("transform", "translate(675," + midY + ") rotate(90)").text("Residuals");

rich(svg.append("text").attr("text-anchor", "middle").attr("fill", "#111")
  .attr("x", colX[0] + colW[0] / 2).attr("y", 607), nppParts, 12);
rich(svg.append("text").attr("text-anchor", "middle").attr("fill", "#111")
  .attr("x", colX[1] + colW[1] / 2).attr("y", 607), gppParts, 12);

// ---- cyan banners ----
svg.append("rect").attr("x", 0).attr("y", 12).attr("width", 35).attr("height", 568).attr("fill", cyan);
svg.append("text").attr("text-anchor", "middle").attr("fill", "#000").style("font-size", "18px")
  .attr("transform", "translate(24,296) rotate(-90)").text("Observed");

svg.append("rect").attr("x", 78).attr("y", 625).attr("width", 572).attr("height", 28).attr("fill", cyan);
svg.append("text").attr("text-anchor", "middle").attr("fill", "#000").style("font-size", "18px")
  .attr("x", 364).attr("y", 645).text("Model-fitted");
</script>
</body>
</html>
